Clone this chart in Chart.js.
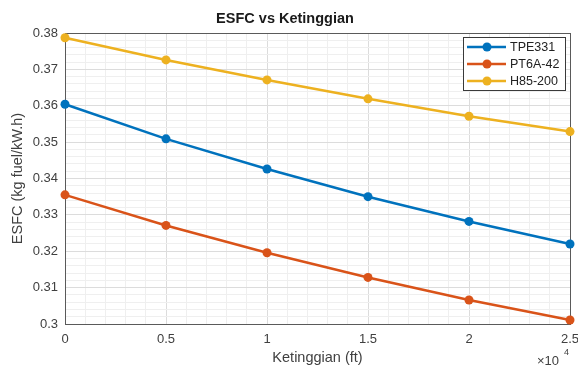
<!DOCTYPE html>
<html>
<head>
<meta charset="utf-8">
<script src="https://cdn.jsdelivr.net/npm/chart.js@4/dist/chart.umd.min.js"></script>
<style>
  body { margin: 0; background: #fff; }
  #wrap { width: 578px; height: 368px; }
</style>
</head>
<body>
<div id="wrap"><canvas id="esfc-chart" width="578" height="368"></canvas></div>
<script>
// altitude in ft, ESFC in kg fuel / kW.h
const altitude = [0, 5000, 10000, 15000, 20000, 25000];
const tpe331 = [0.3604, 0.3509, 0.3426, 0.3350, 0.3282, 0.3220];
const pt6a42 = [0.3355, 0.3271, 0.3196, 0.3128, 0.3066, 0.3011];
const h85200 = [0.3787, 0.3726, 0.3671, 0.3619, 0.3571, 0.3529];

const seriesNames = ["TPE331", "PT6A-42", "H85-200"];
const seriesColors = ["#0072BD", "#D95319", "#EDB120"];
const seriesValues = [tpe331, pt6a42, h85200];

const fontFamily = "'Liberation Sans', Arial, Helvetica, sans-serif";
const textColor = "#404040";

function toPoints(values) {
  return values.map((v, i) => ({ x: altitude[i], y: v }));
}

const datasets = seriesValues.map((vals, i) => ({
  label: seriesNames[i],
  data: toPoints(vals),
  borderColor: seriesColors[i],
  backgroundColor: seriesColors[i],
  borderWidth: 2.5,
  pointRadius: 4.5,
  pointHoverRadius: 4.5,
  pointBorderWidth: 0,
  tension: 0,
  clip: false,
}));

function isMajorX(value) {
  return value % 5000 === 0;
}
function isMajorY(value) {
  return Math.round(value * 1000) % 10 === 0;
}

// frame around plot area (like a matlab axes box)
const framePlugin = {
  id: "frame",
  beforeDatasetsDraw(chart) {
    const { ctx, chartArea } = chart;
    ctx.save();
    ctx.strokeStyle = "#5a5a5a";
    ctx.lineWidth = 1;
    ctx.strokeRect(
      Math.round(chartArea.left) + 0.5,
      Math.round(chartArea.top) + 0.5,
      Math.round(chartArea.right - chartArea.left),
      Math.round(chartArea.bottom - chartArea.top)
    );
    ctx.restore();
  },
};

// legend box inside top right + x10^4 exponent label
const boxLegendPlugin = {
  id: "boxLegend",
  afterDraw(chart) {
    const { ctx, chartArea } = chart;
    ctx.save();
    const w = 102, h = 53;
    const x0 = chartArea.right - 5 - w;
    const y0 = chartArea.top + 4;
    ctx.fillStyle = "#fff";
    ctx.fillRect(x0, y0, w, h);
    ctx.strokeStyle = "#3a3a3a";
    ctx.lineWidth = 1;
    ctx.strokeRect(Math.round(x0) + 0.5, Math.round(y0) + 0.5, w, h);
    ctx.font = "12.5px " + fontFamily;
    ctx.textBaseline = "middle";
    chart.data.datasets.forEach((ds, i) => {
      const cy = y0 + 10 + i * 17;
      ctx.strokeStyle = ds.borderColor;
      ctx.lineWidth = 2.5;
      ctx.beginPath();
      ctx.moveTo(x0 + 4, cy);
      ctx.lineTo(x0 + 43, cy);
      ctx.stroke();
      ctx.fillStyle = ds.borderColor;
      ctx.beginPath();
      ctx.arc(x0 + 24, cy, 4.5, 0, Math.PI * 2);
      ctx.fill();
      ctx.fillStyle = "#222";
      ctx.fillText(ds.label, x0 + 47, cy + 1);
    });

    ctx.fillStyle = textColor;
    ctx.font = "13px " + fontFamily;
    ctx.textBaseline = "middle";
    ctx.fillText("\u00d710", chartArea.right - 33, 361);
    ctx.font = "9px " + fontFamily;
    ctx.fillText("4", chartArea.right - 6, 353);
    ctx.restore();
  },
};

const ctx = document.getElementById("esfc-chart");
const esfcChart = new Chart(ctx, {
  type: "line",
  data: { datasets: datasets },
  options: {
    responsive: false,
    animation: false,
    devicePixelRatio: 1,
    layout: { padding: { left: 0, right: 8, top: 0, bottom: 0 } },
    plugins: {
      legend: { display: false },
      tooltip: { enabled: false },
      title: {
        display: true,
        text: "ESFC vs Ketinggian",
        color: "#1a1a1a",
        font: { family: fontFamily, size: 14.5, weight: "bold" },
        padding: { top: 10, bottom: 5.6 },
      },
    },
    scales: {
      x: {
        type: "linear",
        min: 0,
        max: 25000,
        afterFit(scale) {
          scale.height = 44;
          scale.paddingRight = 0;
          scale.paddingLeft = 0;
        },
        ticks: {
          stepSize: 1000,
          autoSkip: false,
          maxRotation: 0,
          padding: 8,
          color: textColor,
          font: { family: fontFamily, size: 13 },
          callback: (value) => (isMajorX(value) ? String(value / 10000) : ""),
        },
        grid: {
          drawTicks: false,
          lineWidth: 1,
          color: (c) => (isMajorX(c.tick.value) ? "#dcdcdc" : "#efefef"),
        },
        border: { display: false },
        title: {
          display: true,
          text: "Ketinggian (ft)",
          color: textColor,
          font: { family: fontFamily, size: 14.5 },
          padding: { top: 0, bottom: 1 },
        },
      },
      y: {
        min: 0.3,
        max: 0.38,
        afterFit(scale) {
          scale.width = 65;
        },
        ticks: {
          stepSize: 0.002,
          autoSkip: false,
          padding: 7,
          color: textColor,
          font: { family: fontFamily, size: 13 },
          callback: (value) => (isMajorY(value) ? String(+value.toFixed(2)) : ""),
        },
        grid: {
          drawTicks: false,
          lineWidth: 1,
          color: (c) => (isMajorY(c.tick.value) ? "#dcdcdc" : "#efefef"),
        },
        border: { display: false },
        title: {
          display: true,
          text: "ESFC (kg fuel/kW.h)",
          color: textColor,
          font: { family: fontFamily, size: 14.5 },
          padding: { top: 9, bottom: 0 },
        },
      },
    },
  },
  plugins: [framePlugin, boxLegendPlugin],
});
</script>
</body>
</html>
